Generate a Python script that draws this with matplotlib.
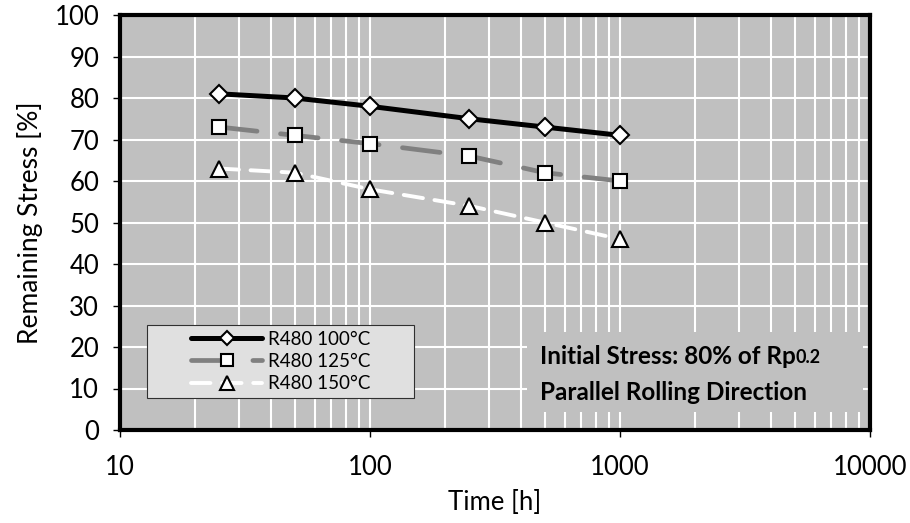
import matplotlib
matplotlib.use("Agg")
import matplotlib.pyplot as plt
from matplotlib.patches import Rectangle
from matplotlib.ticker import LogLocator, FixedLocator, NullFormatter
import numpy as np

plt.rcParams['font.family'] = ['Lato', 'DejaVu Sans']

# ------------------------------------------------------------
# data
# ------------------------------------------------------------
time_h = [25, 50, 100, 250, 500, 1000]
stress_100 = [81, 80, 78, 75, 73, 71]
stress_125 = [73, 71, 69, 66, 62, 60]
stress_150 = [63, 62, 58, 54, 50, 46]

labels = ["R480 100°C", "R480 125°C", "R480 150°C"]

bg = "#c0c0c0"

fig = plt.figure(figsize=(9.1, 5.23), dpi=100)
ax = fig.add_axes([120 / 910, 1 - 430 / 523, 750 / 910, 415 / 523])
ax.set_facecolor(bg)

ax.plot(time_h, stress_100, color="black", lw=3.6, solid_capstyle="round",
        marker="D", ms=9, mfc="white", mec="black", mew=1.5, label=labels[0], zorder=4)
ax.plot(time_h, stress_125, color="#808080", lw=3.4, dashes=(8, 5), dash_capstyle="round",
        marker="s", ms=10.5, mfc="white", mec="black", mew=1.5, label=labels[1], zorder=3)
ax.plot(time_h, stress_150, color="white", lw=2.8, dashes=(5, 3), dash_capstyle="round",
        marker="^", ms=12, mfc="white", mec="black", mew=1.5, label=labels[2], zorder=3)

ax.set_xscale("log")
ax.set_xlim(10, 10000)
ax.set_ylim(0, 100)
ax.yaxis.set_major_locator(FixedLocator(np.arange(0, 101, 10)))
ax.xaxis.set_major_locator(FixedLocator([10, 100, 1000, 10000]))
ax.xaxis.set_minor_locator(LogLocator(base=10, subs=np.arange(2, 10)))
ax.xaxis.set_minor_formatter(NullFormatter())
ax.set_xticklabels(["10", "100", "1000", "10000"])

ax.set_axisbelow(True)
ax.grid(True, which="major", color="white", lw=1.5)
ax.grid(True, which="minor", axis="x", color="white", lw=1.5)

for s in ax.spines.values():
    s.set_linewidth(3)
    s.set_color("black")

ax.tick_params(axis="both", which="major", direction="out", length=5, width=1,
               labelsize=18.5)
ax.tick_params(axis="x", which="major", pad=13)
ax.tick_params(axis="y", which="major", pad=10)
ax.tick_params(axis="x", which="minor", length=0)

ax.set_xlabel("Time [h]", fontsize=18.5, labelpad=7)
ax.set_ylabel("Remaining Stress [%]", fontsize=19, labelpad=8)

# legend box
leg_x0, leg_y0, leg_w, leg_h = 27 / 750, 32 / 415, 267 / 750, 73 / 415
ax.add_patch(Rectangle((leg_x0, leg_y0), leg_w, leg_h, transform=ax.transAxes,
                       fc="#e0e0e0", ec="#303030", lw=0.8, zorder=5))
leg = ax.legend(loc="center", bbox_to_anchor=(leg_x0 + leg_w / 2, leg_y0 + leg_h / 2),
                frameon=False, fontsize=13.5, handlelength=3.8, handletextpad=0.3,
                labelspacing=0.28, borderpad=0.2, markerscale=0.8)
leg.set_zorder(6)

# annotation box
box_x0, box_y0, box_w, box_h = 407 / 750, 18 / 415, 336 / 750, 80 / 415
ax.add_patch(Rectangle((box_x0, box_y0), box_w, box_h, transform=ax.transAxes,
                       fc=bg, ec="none", zorder=5))
t1 = ax.text(420 / 750, 73 / 415, "Initial Stress: 80% of Rp", transform=ax.transAxes,
             fontsize=17.5, fontweight="bold", va="center", ha="left", zorder=6)
ax.annotate("0.2", xy=(1, 0.12), xycoords=t1, fontsize=13, fontweight="bold",
            va="bottom", ha="left", zorder=6)
ax.text(420 / 750, 38 / 415, "Parallel Rolling Direction", transform=ax.transAxes,
        fontsize=17.5, fontweight="bold", va="center", ha="left", zorder=6)

fig.savefig("out.png", dpi=100)
